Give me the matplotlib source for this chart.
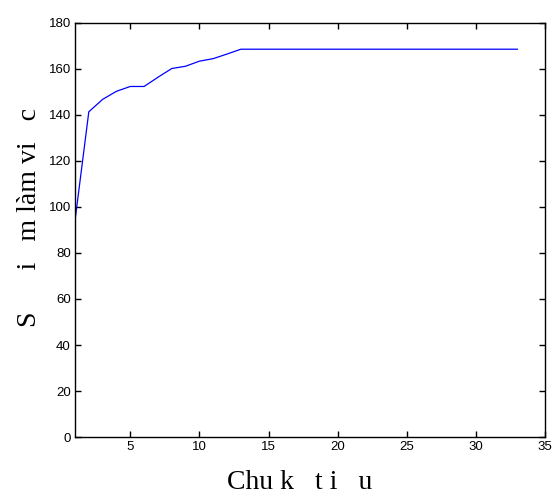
import matplotlib
matplotlib.use("Agg")
import matplotlib.pyplot as plt

# Convergence of the objective over iteration cycles
cycles = list(range(1, 34))
values = [94, 141.4, 146.8, 150.3, 152.4, 152.4, 156.4, 160.2, 161.2, 163.4,
          164.5, 166.5, 168.6] + [168.6] * 20

x_ticks = [5, 10, 15, 20, 25, 30, 35]
y_ticks = [0, 20, 40, 60, 80, 100, 120, 140, 160, 180]

xlabel_text = "Chu k   t i   u"
ylabel_text = "S      i   m làm vi   c"

fig = plt.figure(figsize=(5.53, 5.03), dpi=100)
ax = fig.add_axes([0.1356, 0.1312, 0.8499, 0.8231])

ax.plot(cycles, values, color="#0000ff", linewidth=0.9)

ax.set_xlim(1, 35)
ax.set_ylim(0, 180)
ax.set_xticks(x_ticks)
ax.set_yticks(y_ticks)
ax.tick_params(direction="in", top=True, right=True, length=4, width=1,
               labelsize=9.5, pad=3)
for lbl in ax.get_xticklabels() + ax.get_yticklabels():
    lbl.set_family("Liberation Sans")
for s in ax.spines.values():
    s.set_linewidth(1.0)

ax.set_xlabel(xlabel_text, family="Liberation Serif", fontsize=20, labelpad=12)
ax.set_ylabel(ylabel_text, family="Liberation Serif", fontsize=20, labelpad=5)
ax.xaxis.label.set_x(0.479)
ax.yaxis.label.set_y(0.529)

fig.savefig("out.png", dpi=100)
